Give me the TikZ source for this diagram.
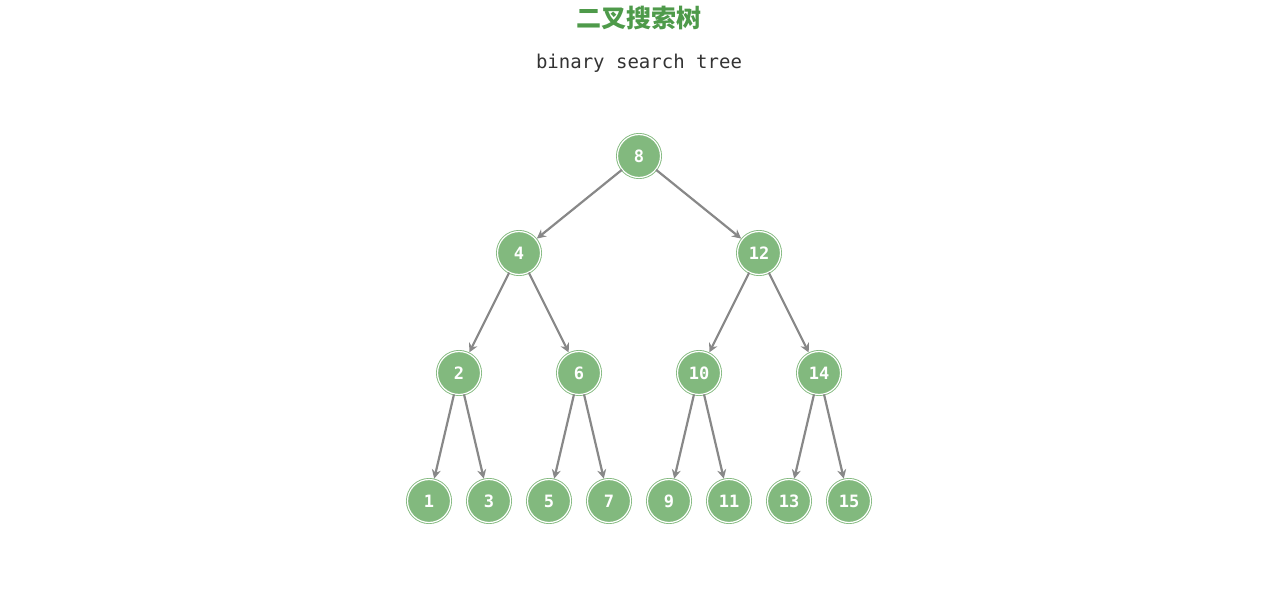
\documentclass[tikz,border=0pt]{standalone}
\usepackage{fontspec}
\newfontfamily\cjk{Noto Sans CJK SC}
\newfontfamily\mono{DejaVu Sans Mono}
\usetikzlibrary{arrows.meta}
\definecolor{g}{HTML}{82B97E}
\definecolor{tg}{HTML}{4E9A4A}
\definecolor{eg}{HTML}{888888}
\begin{document}
\begin{tikzpicture}[x=1pt,y=-1pt,
 tn/.style={circle,minimum size=43pt,inner sep=0pt,fill=g,draw=g,double=white,double distance=1.2pt,line width=0.9pt,text=white,font=\mono\bfseries\fontsize{17}{17}\selectfont},
 ed/.style={draw=eg,line width=2.2pt,-{Stealth[length=9pt,width=9pt]},shorten >=1pt}]
\useasboundingbox (0,0) rectangle (1280,613);
\node[font=\cjk\bfseries\fontsize{25}{25}\selectfont,text=tg] (t) at (639,18) {二叉搜索树};
\node[font=\mono\fontsize{19}{19}\selectfont,text=black!80] (s) at (639,63) {binary search tree};
\node[tn] (n8) at (639,156) {8};
\node[tn] (n4) at (519,253) {4};
\node[tn] (n12) at (759,253) {12};
\node[tn] (n2) at (459,373) {2};
\node[tn] (n6) at (579,373) {6};
\node[tn] (n10) at (699,373) {10};
\node[tn] (n14) at (819,373) {14};
\foreach \v/\x in {1/429,3/489,5/549,7/609,9/669,11/729,13/789,15/849}
  \node[tn] (n\v) at (\x,501) {\v};
\foreach \a/\b in {8/4,8/12,4/2,4/6,12/10,12/14,2/1,2/3,6/5,6/7,10/9,10/11,14/13,14/15}
  \draw[ed] (n\a) -- (n\b);
\end{tikzpicture}
\end{document}
